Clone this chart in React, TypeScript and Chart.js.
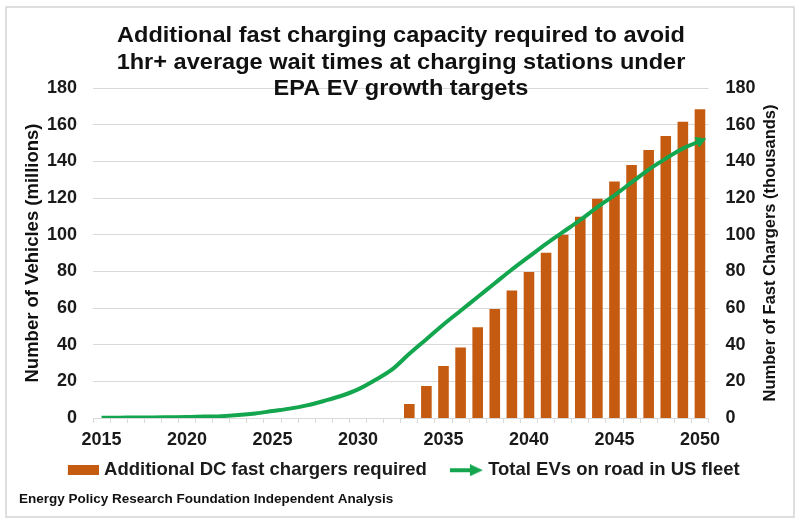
import React, { useEffect, useRef } from "react";
import { Chart, registerables } from "chart.js";

Chart.register(...registerables);

const FONT = '"Liberation Sans", Arial, Helvetica, sans-serif';

const years = [
  "2015", "2016", "2017", "2018", "2019", "2020", "2021", "2022", "2023", "2024",
  "2025", "2026", "2027", "2028", "2029", "2030", "2031", "2032", "2033", "2034",
  "2035", "2036", "2037", "2038", "2039", "2040", "2041", "2042", "2043", "2044",
  "2045", "2046", "2047", "2048", "2049", "2050",
];

// Total EVs on road (millions) - left axis
const evFleetMillions = [
  0.2, 0.2, 0.3, 0.3, 0.4, 0.5, 0.8, 1.0, 1.6, 2.5,
  3.8, 5.1, 6.9, 9.3, 12.0, 15.6, 20.7, 26.5, 35.0, 43.0,
  51.0, 58.5, 66.0, 73.5, 81.0, 88.0, 95.0, 101.5, 108.0, 115.0,
  121.5, 128.5, 135.5, 141.5, 147.0, 151.0,
];

// Additional DC fast chargers required (thousands) - right axis
const fastChargersThousands = [
  null, null, null, null, null, null, null, null, null, null,
  null, null, null, null, null, null, null, null, 7.6, 17.5,
  28.4, 38.5, 49.5, 59.5, 69.6, 79.6, 90.2, 100, 109.8, 119.6,
  129, 138, 146.2, 153.8, 161.6, 168.4,
];

const titleLines = [
  "Additional fast charging capacity required to avoid",
  "1hr+ average wait times at charging stations under",
  "EPA EV growth targets",
];
const leftAxisTitle = "Number of Vehicles (millions)";
const rightAxisTitle = "Number of Fast Chargers (thousands)";
const sourceNote = "Energy Policy Research Foundation Independent Analysis";
const barLabel = "Additional DC fast chargers required";
const lineLabel = "Total EVs on road in US fleet";

const BAR_COLOR = "#C55A11";
const LINE_COLOR = "#14A64E";
const GRID_COLOR = "#d9d9d9";
const TEXT_COLOR = "#1a1a1a";

export default function App() {
  const canvasRef = useRef<HTMLCanvasElement | null>(null);

  useEffect(() => {
    const canvas = canvasRef.current;
    if (!canvas) return;

    // legend marker images (symmetric width so the visible mark sits right of the box centre)
    const barImg = document.createElement("canvas");
    barImg.width = 53;
    barImg.height = 10;
    const bctx = barImg.getContext("2d")!;
    bctx.fillStyle = BAR_COLOR;
    bctx.fillRect(22, 0, 31, 10);

    const arrowImg = document.createElement("canvas");
    arrowImg.width = 53;
    arrowImg.height = 12;
    const actx = arrowImg.getContext("2d")!;
    actx.strokeStyle = LINE_COLOR;
    actx.lineWidth = 4;
    actx.beginPath();
    actx.moveTo(20, 6);
    actx.lineTo(43, 6);
    actx.stroke();
    actx.fillStyle = LINE_COLOR;
    actx.beginPath();
    actx.moveTo(40, 0);
    actx.lineTo(53, 6);
    actx.lineTo(40, 12);
    actx.closePath();
    actx.fill();

    const decorPlugin = {
      id: "decor",
      beforeDraw(chart: any) {
        const ctx = chart.ctx;
        ctx.save();
        ctx.fillStyle = "#ffffff";
        ctx.fillRect(0, 0, chart.width, chart.height);
        ctx.strokeStyle = "#d4d4d4";
        ctx.lineWidth = 1.5;
        ctx.strokeRect(6, 7, 788, 510);
        ctx.restore();
      },
      afterDraw(chart: any) {
        const ctx = chart.ctx;
        const area = chart.chartArea;
        const midY = (area.top + area.bottom) / 2;
        ctx.save();
        ctx.fillStyle = "#111111";
        // title
        ctx.font = `bold 22px ${FONT}`;
        ctx.textAlign = "center";
        ctx.textBaseline = "alphabetic";
        const w = ctx.measureText(titleLines[0]).width;
        const sx = 568 / w;
        const baselines = [42, 68.5, 95];
        titleLines.forEach((line, i) => {
          ctx.save();
          ctx.translate(401, baselines[i]);
          ctx.scale(sx, 1);
          ctx.fillText(line, 0, 0);
          ctx.restore();
        });
        // left axis title
        ctx.textBaseline = "middle";
        ctx.font = `bold 18.5px ${FONT}`;
        ctx.save();
        ctx.translate(33, midY);
        ctx.rotate(-Math.PI / 2);
        ctx.fillText(leftAxisTitle, 0, 0);
        ctx.restore();
        // right axis title
        ctx.font = `bold 16.5px ${FONT}`;
        ctx.save();
        ctx.translate(770, midY);
        ctx.rotate(-Math.PI / 2);
        ctx.fillText(rightAxisTitle, 0, 0);
        ctx.restore();
        // source
        ctx.font = `bold 13.5px ${FONT}`;
        ctx.textAlign = "left";
        ctx.fillText(sourceNote, 19, 499);
        ctx.restore();
      },
    };

    const last = evFleetMillions.length - 1;
    const tickFont = { family: FONT, size: 18, weight: "bold" as const };

    const chart = new Chart(canvas, {
      type: "bar",
      data: {
        labels: years,
        datasets: [
          {
            type: "line" as const,
            label: lineLabel,
            data: evFleetMillions,
            yAxisID: "y",
            borderColor: LINE_COLOR,
            backgroundColor: LINE_COLOR,
            borderWidth: 4,
            cubicInterpolationMode: "monotone" as const,
            pointStyle: "triangle",
            pointRadius: (c: any) => (c.dataIndex === last ? 6 : 0),
            pointRotation: 67,
            pointBackgroundColor: LINE_COLOR,
            pointBorderColor: LINE_COLOR,
            pointBorderWidth: 1,
            order: 0,
          } as any,
          {
            type: "bar" as const,
            label: barLabel,
            data: fastChargersThousands,
            yAxisID: "y1",
            backgroundColor: BAR_COLOR,
            borderWidth: 0,
            barPercentage: 0.62,
            categoryPercentage: 1,
            order: 1,
          },
        ],
      },
      options: {
        animation: false,
        responsive: true,
        maintainAspectRatio: false,
        events: [],
        layout: { padding: { top: 88, left: 0, right: 10.5, bottom: 34.5 } },
        plugins: {
          title: { display: false },
          tooltip: { enabled: false },
          legend: {
            display: true,
            position: "bottom",
            align: "center",
            labels: {
              usePointStyle: true,
              pointStyleWidth: 45,
              padding: 7,
              color: TEXT_COLOR,
              font: { family: FONT, size: 18.5, weight: "bold" },
              generateLabels: () => [
                {
                  text: barLabel,
                  pointStyle: barImg as any,
                  fillStyle: BAR_COLOR,
                  strokeStyle: BAR_COLOR,
                  lineWidth: 0,
                  hidden: false,
                  datasetIndex: 1,
                  rotation: 0,
                  fontColor: TEXT_COLOR,
                },
                {
                  text: lineLabel,
                  pointStyle: arrowImg as any,
                  fillStyle: LINE_COLOR,
                  strokeStyle: LINE_COLOR,
                  lineWidth: 0,
                  hidden: false,
                  datasetIndex: 0,
                  rotation: 0,
                  fontColor: TEXT_COLOR,
                },
              ],
            },
          },
        },
        scales: {
          x: {
            type: "category",
            offset: true,
            grid: {
              display: true,
              drawOnChartArea: false,
              drawTicks: true,
              tickLength: 5,
              color: GRID_COLOR,
              offset: true,
            },
            border: { display: true, color: GRID_COLOR },
            ticks: {
              autoSkip: false,
              maxRotation: 0,
              minRotation: 0,
              padding: 6,
              color: TEXT_COLOR,
              font: tickFont,
              callback: (_v: any, idx: number) =>
                Number(years[idx]) % 5 === 0 ? years[idx] : "",
            },
            afterFit: (s: any) => {
              s.height = 36;
            },
          },
          y: {
            position: "left",
            min: 0,
            max: 180,
            ticks: { stepSize: 20, padding: 16, color: TEXT_COLOR, font: tickFont },
            grid: { color: GRID_COLOR, drawTicks: false, lineWidth: 1 },
            border: { display: false },
            afterFit: (s: any) => {
              s.width = 93;
            },
          },
          y1: {
            position: "right",
            min: 0,
            max: 180,
            ticks: { stepSize: 20, padding: 17, color: TEXT_COLOR, font: tickFont },
            grid: { display: false, drawOnChartArea: false, drawTicks: false },
            border: { display: false },
            afterFit: (s: any) => {
              s.width = 81;
            },
          },
        },
      },
      plugins: [decorPlugin],
    });

    return () => {
      chart.destroy();
    };
  }, []);

  return (
    <div style={{ position: "absolute", left: 0, top: 0, width: 800, height: 524 }}>
      <canvas ref={canvasRef} />
    </div>
  );
}
